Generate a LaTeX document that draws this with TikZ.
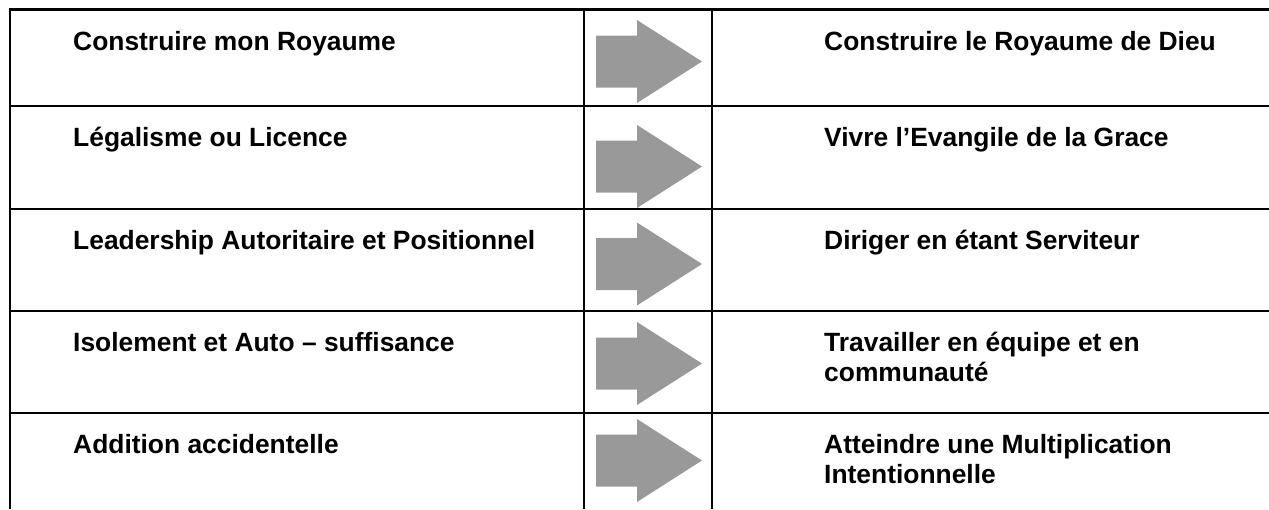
\documentclass[tikz,border=0pt]{standalone}
\usepackage{fontspec}
\setmainfont{Liberation Sans}
\begin{document}
\begin{tikzpicture}[x=1pt,y=-1pt,
  grid/.style={line width=2.8pt,black},
  lbl/.style={anchor=base west,inner sep=0pt,
    font=\fontsize{26.4}{30}\selectfont\bfseries},
  arrowfill/.style={fill=black!40,draw=none}]
\useasboundingbox (0,0) rectangle (1269,509);
% grid
\draw[grid] (10,9.5) -- (1269,9.5);
\foreach \y in {106,209,311,413} \draw[grid] (10,\y) -- (1269,\y);
\foreach \x in {10,584,712} \draw[grid] (\x,8.1) -- (\x,509);
% arrows (shapes anchored at the middle of their tail)
\foreach \n/\c in {1/61.5,2/166.5,3/264,4/363.5,5/460.5}{
  \coordinate (a\n) at (596,\c);
  \fill[arrowfill] (a\n) ++(0,-26) -- ++(41,0) -- ++(0,-15.5) -- ++(65,41.5)
    -- ++(-65,41.5) -- ++(0,-15.5) -- ++(-41,0) -- cycle;
}
% left texts (placed at the baseline of their first line)
\node[lbl] (l1) at (73,50) {Construire mon Royaume};
\node[lbl] (l2) at (73,146.5) {Légalisme ou Licence};
\node[lbl] (l3) at (73,249.5) {Leadership Autoritaire et Positionnel};
\node[lbl] (l4) at (73,351.5) {Isolement et Auto – suffisance};
\node[lbl] (l5) at (73,453.5) {Addition accidentelle};
% right texts
\node[lbl] (r1) at (824,50) {Construire le Royaume de Dieu};
\node[lbl] (r2) at (824,146.5) {Vivre l’Evangile de la Grace};
\node[lbl] (r3) at (824,249.5) {Diriger en étant Serviteur};
\node[lbl] (r4) at (824,351.5) {\begin{tabular}[t]{@{}l@{}}Travailler en équipe et en\\communauté\end{tabular}};
\node[lbl] (r5) at (824,453.5) {\begin{tabular}[t]{@{}l@{}}Atteindre une Multiplication\\Intentionnelle\end{tabular}};
\end{tikzpicture}
\end{document}
